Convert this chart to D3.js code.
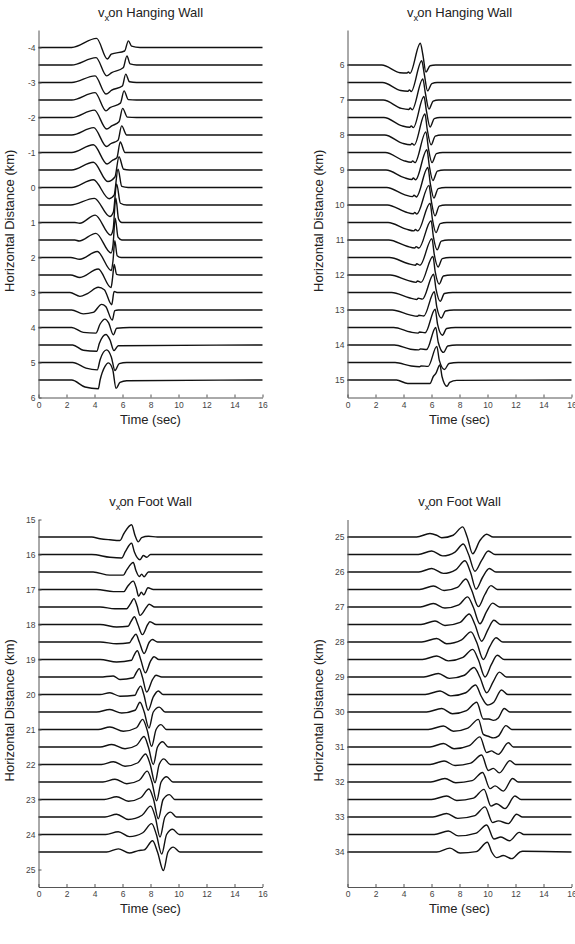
<!DOCTYPE html>
<html>
<head>
<meta charset="utf-8">
<script src="https://cdn.jsdelivr.net/npm/d3@7"></script>
<style>
  body { margin: 0; background: #fff; }
  svg text { font-family: "Liberation Sans", Arial, sans-serif; }
</style>
</head>
<body>
<div id="chart"></div>
<script>
// page size
const width = 575
const height = 944

// shared axis ticks
const timeTicks = [0, 2, 4, 6, 8, 10, 12, 14, 16]

// each trace: [time (sec), deflection in km units, + = up]

// ---- v_x on hanging wall, -4 .. 5.5 km
const hwDistA = [-4, -3.5, -3, -2.5, -2, -1.5, -1, -0.5, 0, 0.5, 1, 1.5, 2, 2.5, 3, 3.5, 4, 4.5, 5, 5.5]
const hwTicksA = [-4, -3, -2, -1, 0, 1, 2, 3, 4, 5, 6]
const hwTracesA = [
  [[0,0],[2.37,0],[4.15,0.26],[4.92,-0.33],[5.2,-0.19],[6.15,-0.1],[6.42,0.19],[6.65,0.04],[7.25,0],[16,0]],
  [[0,0],[2.37,0],[4.11,0.21],[4.87,-0.31],[5.23,-0.22],[6.05,-0.08],[6.32,0.26],[6.54,0.03],[7.0,0],[16,0]],
  [[0,0],[2.37,0],[4.04,0.19],[4.82,-0.33],[5.23,-0.22],[5.99,-0.1],[6.23,0.24],[6.5,0.02],[7.0,0],[16,0]],
  [[0,0],[2.37,0],[4.04,0.21],[4.82,-0.31],[5.11,-0.22],[5.85,-0.09],[6.11,0.26],[6.42,0.01],[7.0,0],[16,0]],
  [[0,0],[2.37,0],[3.99,0.21],[4.87,-0.33],[5.23,-0.24],[5.75,-0.12],[6.01,0.26],[6.35,0.01],[7.0,0],[16,0]],
  [[0,0],[2.37,0],[3.94,0.21],[4.87,-0.33],[5.15,-0.25],[5.68,-0.15],[5.94,0.26],[6.3,0],[16,0]],
  [[0,0],[2.37,0],[3.92,0.22],[4.9,-0.33],[5.3,-0.22],[5.6,-0.15],[5.84,0.3],[6.18,0],[16,0]],
  [[0,0],[2.37,0],[3.92,0.22],[4.95,-0.33],[5.46,-0.2],[5.75,0.38],[6.08,0.02],[6.5,0],[16,0]],
  [[0,0],[2.37,0],[3.92,0.22],[5.05,-0.32],[5.4,-0.22],[5.68,0.52],[5.95,0.03],[6.4,0],[16,0]],
  [[0,0],[2.3,0],[3.99,0.19],[5.1,-0.33],[5.35,-0.2],[5.58,0.6],[5.85,0.05],[6.3,0],[16,0]],
  [[0,0],[2.6,0],[2.95,-0.02],[4.05,0.21],[5.15,-0.36],[5.33,-0.2],[5.52,0.7],[5.72,0.1],[5.95,0],[16,0]],
  [[0,0],[2.6,0],[2.9,-0.03],[4.1,0.19],[5.18,-0.37],[5.32,-0.15],[5.48,0.62],[5.68,0.08],[5.95,0],[16,0]],
  [[0,0],[2.3,0],[2.95,-0.05],[4.2,0.17],[5.2,-0.37],[5.32,-0.1],[5.45,0.48],[5.62,0.05],[5.9,0],[16,0]],
  [[0,0],[2.3,0],[2.96,-0.07],[4.27,0.17],[5.18,-0.36],[5.3,-0.05],[5.4,0.3],[5.58,0.02],[5.85,0],[16,0]],
  [[0,0],[2.25,0],[2.96,-0.11],[3.5,-0.03],[4.27,0.15],[4.7,0.08],[5.23,-0.35],[5.4,0.03],[5.6,0],[16,0]],
  [[0,0],[2.37,0],[3.2,-0.11],[3.9,-0.07],[4.51,0.16],[4.8,0.1],[5.27,-0.29],[5.45,-0.02],[5.7,0],[16,0]],
  [[0,0],[2.37,0],[3.2,-0.14],[4.1,-0.16],[4.4,0.1],[4.75,0.24],[5.0,0.14],[5.35,-0.21],[5.58,-0.02],[6.5,0],[16,0]],
  [[0,0],[2.44,0],[3.2,-0.15],[4.16,-0.18],[4.35,0.05],[4.82,0.3],[5.1,0.15],[5.39,-0.16],[5.7,-0.02],[16,0]],
  [[0,0],[2.44,0],[3.39,-0.16],[4.2,-0.21],[4.4,0.08],[4.87,0.36],[5.2,0.16],[5.46,-0.23],[5.77,-0.03],[6.3,0],[16,0]],
  [[0,0],[2.37,0],[3.32,-0.2],[4.27,-0.25],[4.4,0.0],[4.75,0.39],[4.99,0.49],[5.3,0.3],[5.54,-0.24],[5.82,-0.07],[6.3,-0.02],[16,0]]
]

// ---- v_x on hanging wall, 6 .. 15 km
const hwDistB = [6, 6.5, 7, 7.5, 8, 8.5, 9, 9.5, 10, 10.5, 11, 11.5, 12, 12.5, 13, 13.5, 14, 14.5, 15]
const hwTicksB = [6, 7, 8, 9, 10, 11, 12, 13, 14, 15]
const hwTracesB = [
  [[0,0],[2.45,0],[3.75,-0.22],[4.25,-0.23],[4.35,-0.2],[4.46,-0.24],[5.2,0.62],[5.38,0.3],[5.6,-0.2],[5.9,-0.02],[6.3,0],[16,0]],
  [[0,0],[2.5,0],[3.8,-0.23],[4.32,-0.25],[4.42,-0.21],[4.55,-0.26],[5.3,0.62],[5.48,0.25],[5.72,-0.24],[6.02,-0.03],[6.4,0],[16,0]],
  [[0,0],[2.55,0],[3.85,-0.24],[4.38,-0.27],[4.48,-0.23],[4.62,-0.28],[5.38,0.6],[5.56,0.2],[5.82,-0.26],[6.12,-0.03],[6.5,0],[16,0]],
  [[0,0],[2.6,0],[3.9,-0.24],[4.45,-0.28],[4.55,-0.24],[4.7,-0.29],[5.46,0.6],[5.64,0.18],[5.9,-0.27],[6.2,-0.03],[6.6,0],[16,0]],
  [[0,0],[2.65,0],[3.95,-0.24],[4.5,-0.28],[4.6,-0.24],[4.76,-0.29],[5.53,0.6],[5.7,0.15],[5.97,-0.28],[6.27,-0.03],[6.7,0],[16,0]],
  [[0,0],[2.7,0],[4.0,-0.23],[4.55,-0.28],[4.65,-0.24],[4.82,-0.29],[5.6,0.59],[5.78,0.12],[6.04,-0.29],[6.35,-0.03],[6.8,0],[16,0]],
  [[0,0],[2.75,0],[4.05,-0.22],[4.6,-0.27],[4.7,-0.23],[4.87,-0.28],[5.67,0.58],[5.85,0.1],[6.1,-0.3],[6.42,-0.03],[6.9,0],[16,0]],
  [[0,0],[2.8,0],[4.1,-0.21],[4.65,-0.26],[4.75,-0.22],[4.92,-0.27],[5.74,0.57],[5.92,0.1],[6.17,-0.3],[6.48,-0.03],[7.0,0],[16,0]],
  [[0,0],[2.85,0],[4.15,-0.2],[4.7,-0.25],[4.8,-0.21],[4.95,-0.26],[5.82,0.56],[6.0,0.08],[6.25,-0.31],[6.55,-0.03],[7.0,0],[16,0]],
  [[0,0],[2.9,0],[4.2,-0.19],[4.75,-0.24],[4.85,-0.2],[5.02,-0.24],[5.9,0.55],[6.07,0.08],[6.32,-0.29],[6.62,-0.03],[7.1,0],[16,0]],
  [[0,0],[2.95,0],[4.25,-0.18],[4.8,-0.23],[4.9,-0.19],[5.1,-0.23],[5.97,0.55],[6.14,0.08],[6.4,-0.28],[6.7,-0.03],[7.2,0],[16,0]],
  [[0,0],[3.0,0],[4.3,-0.17],[4.85,-0.22],[4.95,-0.18],[5.18,-0.22],[6.03,0.54],[6.2,0.08],[6.47,-0.27],[6.77,-0.03],[7.3,0],[16,0]],
  [[0,0],[3.05,0],[4.35,-0.16],[4.9,-0.21],[5.0,-0.17],[5.25,-0.21],[6.1,0.53],[6.27,0.08],[6.55,-0.26],[6.85,-0.03],[7.4,0],[16,0]],
  [[0,0],[3.15,0],[4.4,-0.15],[4.95,-0.2],[5.05,-0.16],[5.35,-0.19],[6.15,0.52],[6.33,0.08],[6.62,-0.25],[6.92,-0.03],[7.5,0],[16,0]],
  [[0,0],[3.2,0],[4.45,-0.14],[5.0,-0.18],[5.1,-0.15],[5.45,-0.17],[6.2,0.52],[6.38,0.08],[6.7,-0.23],[7.0,-0.03],[7.6,0],[16,0]],
  [[0,0],[3.3,0],[4.5,-0.13],[5.05,-0.16],[5.15,-0.13],[5.55,-0.15],[6.26,0.52],[6.44,0.08],[6.78,-0.22],[7.08,-0.03],[7.7,0],[16,0]],
  [[0,0],[3.35,0],[4.5,-0.12],[5.1,-0.14],[5.2,-0.11],[5.65,-0.13],[6.3,0.5],[6.48,0.08],[6.86,-0.21],[7.16,-0.03],[7.8,0],[16,0]],
  [[0,0],[3.4,0],[4.55,-0.1],[5.15,-0.12],[5.25,-0.1],[5.76,-0.11],[6.38,0.46],[6.56,0.06],[6.93,-0.2],[7.25,-0.03],[7.9,0],[16,0]],
  [[0,0],[3.5,0],[4.3,-0.1],[4.85,-0.1],[5.89,-0.1],[6.13,0.1],[6.3,0.18],[6.6,0.43],[6.75,0.1],[7.1,-0.18],[7.3,-0.07],[7.8,-0.01],[16,0]]
]

// ---- v_x on foot wall, 15.5 .. 24.5 km
const fwDistA = [15.5, 16, 16.5, 17, 17.5, 18, 18.5, 19, 19.5, 20, 20.5, 21, 21.5, 22, 22.5, 23, 23.5, 24, 24.5]
const fwTicksA = [15, 16, 17, 18, 19, 20, 21, 22, 23, 24, 25]
const fwTracesA = [
  [[0,0],[3.8,0],[4.4,-0.05],[5.1,-0.08],[5.82,-0.1],[6.1,0.1],[6.65,0.35],[6.89,0.05],[7.13,-0.14],[7.37,-0.02],[7.85,0.02],[8.5,0],[16,0]],
  [[0,0],[3.8,0],[5.1,-0.08],[5.94,-0.1],[6.2,0.08],[6.65,0.32],[6.85,0.07],[7.25,-0.15],[7.49,-0.03],[7.73,-0.08],[8.0,0],[16,0]],
  [[0,0],[3.9,0],[5.1,-0.09],[6.06,-0.09],[6.3,0.06],[6.77,0.27],[6.96,0.04],[7.2,-0.13],[7.37,-0.06],[7.54,-0.14],[7.85,0],[16,0]],
  [[0,0],[4.15,0],[5.35,-0.06],[6.1,-0.06],[6.35,0.08],[6.77,0.24],[6.98,0.05],[7.15,-0.19],[7.35,-0.08],[7.52,-0.15],[7.82,0.05],[8.2,0],[16,0]],
  [[0,0],[4.4,0],[5.45,-0.05],[6.3,-0.05],[6.55,0.08],[6.82,0.24],[7.05,0.02],[7.25,-0.24],[7.72,0],[7.9,0.08],[8.3,0],[16,0]],
  [[0,0],[4.4,0],[5.58,-0.07],[6.4,-0.05],[6.6,0.08],[6.85,0.22],[7.1,0.0],[7.42,-0.29],[7.8,0],[7.96,0.08],[8.4,0],[16,0]],
  [[0,0],[4.4,0],[5.58,-0.05],[6.5,-0.02],[6.7,0.1],[6.96,0.22],[7.2,0.0],[7.54,-0.33],[7.92,0],[8.13,0.07],[8.5,0],[16,0]],
  [[0,0],[4.4,0],[5.58,-0.07],[6.65,-0.02],[6.8,0.1],[7.06,0.25],[7.3,0.0],[7.63,-0.38],[8.01,-0.04],[8.25,0.08],[8.6,0],[16,0]],
  [[0,0],[4.4,0],[5.34,0.03],[5.82,-0.07],[6.77,-0.02],[6.95,0.1],[7.2,0.24],[7.42,0.0],[7.73,-0.43],[8.15,-0.07],[8.39,0.05],[8.8,0],[16,0]],
  [[0,0],[4.4,0],[5.1,0.05],[5.82,-0.05],[6.9,-0.02],[7.05,0.1],[7.3,0.24],[7.52,0.0],[7.83,-0.45],[8.2,-0.07],[8.56,0.1],[8.9,0],[16,0]],
  [[0,0],[4.15,0],[5.1,0.07],[5.94,-0.03],[6.9,0.05],[7.25,0.28],[7.55,0.0],[7.89,-0.46],[8.2,0.0],[8.63,0.14],[9.04,0],[16,0]],
  [[0,0],[4.27,0],[5.1,0.07],[6.06,-0.05],[7.0,0.05],[7.44,0.29],[7.75,0.0],[8.08,-0.48],[8.4,0.0],[8.75,0.14],[9.15,0],[16,0]],
  [[0,0],[4.4,0],[5.23,0.07],[6.18,-0.05],[7.01,0.05],[7.54,0.3],[7.85,0.0],[8.2,-0.5],[8.5,0.0],[8.87,0.15],[9.27,0],[16,0]],
  [[0,0],[4.5,0],[5.35,0.08],[6.18,-0.05],[7.1,0.05],[7.65,0.3],[7.98,0.0],[8.32,-0.52],[8.62,0.0],[8.96,0.16],[9.4,0],[16,0]],
  [[0,0],[4.6,0],[5.46,0.08],[6.3,-0.05],[7.2,0.05],[7.77,0.31],[8.1,0.0],[8.44,-0.54],[8.76,0.0],[9.15,0.15],[9.6,0],[16,0]],
  [[0,0],[4.7,0],[5.58,0.08],[6.42,-0.05],[7.3,0.05],[7.89,0.3],[8.22,0.0],[8.56,-0.55],[8.9,0.0],[9.35,0.14],[9.75,0],[16,0]],
  [[0,0],[4.75,0],[5.58,0.08],[6.42,-0.07],[7.4,0.05],[8.01,0.31],[8.34,0.0],[8.68,-0.57],[9.03,0.0],[9.44,0.14],[9.85,0],[16,0]],
  [[0,0],[4.8,0],[5.7,0.08],[6.49,-0.06],[7.45,0.05],[8.08,0.31],[8.42,0.0],[8.8,-0.56],[9.15,0.0],[9.58,0.15],[10.05,0],[16,0]],
  [[0,0],[4.87,0],[5.7,0.09],[6.49,-0.03],[7.13,0.04],[7.55,0.06],[8.15,0.32],[8.5,0.0],[8.92,-0.53],[9.25,0.0],[9.63,0.14],[10.1,0],[16,0]]
]

// ---- v_x on foot wall, 25 .. 34 km
const fwDistB = [25, 25.5, 26, 26.5, 27, 27.5, 28, 28.5, 29, 29.5, 30, 30.5, 31, 31.5, 32, 32.5, 33, 33.5, 34]
const fwTicksB = [25, 26, 27, 28, 29, 30, 31, 32, 33, 34]
const fwTracesB = [
  [[0,0],[4.94,0],[5.89,0.1],[6.37,0.05],[6.73,-0.02],[7.55,0.05],[8.23,0.29],[8.55,0.0],[8.94,-0.48],[9.46,-0.1],[9.94,0.08],[10.4,0],[16,0]],
  [[0,0],[5.06,0],[6.01,0.1],[6.8,-0.04],[7.68,0.07],[8.27,0.3],[8.65,0.0],[9.1,-0.48],[9.58,-0.17],[10.06,0.1],[10.54,0],[16,0]],
  [[0,0],[5.1,0],[6.01,0.1],[6.85,-0.04],[7.75,0.07],[8.39,0.32],[8.78,0.0],[9.18,-0.49],[9.65,-0.15],[10.13,0.1],[10.6,0],[16,0]],
  [[0,0],[5.15,0],[6.13,0.1],[6.9,-0.03],[7.85,0.06],[8.46,0.3],[8.85,0.0],[9.35,-0.49],[9.8,-0.15],[10.25,0.11],[10.7,0],[16,0]],
  [[0,0],[5.2,0],[6.13,0.1],[6.96,-0.03],[7.95,0.06],[8.58,0.29],[8.98,0.0],[9.46,-0.48],[9.92,-0.14],[10.37,0.11],[10.85,0],[16,0]],
  [[0,0],[5.25,0],[6.25,0.1],[6.96,-0.03],[8.05,0.06],[8.7,0.3],[9.1,0.0],[9.58,-0.48],[10.05,-0.13],[10.46,0.12],[10.95,0],[16,0]],
  [[0,0],[5.3,0],[6.37,0.1],[7.08,-0.05],[8.15,0.06],[8.82,0.29],[9.22,0.0],[9.7,-0.5],[10.15,-0.14],[10.61,0.12],[11.1,0],[16,0]],
  [[0,0],[5.35,0],[6.37,0.1],[7.2,-0.04],[8.25,0.06],[8.94,0.29],[9.34,0.0],[9.82,-0.5],[10.28,-0.14],[10.7,0.12],[11.2,0],[16,0]],
  [[0,0],[5.45,0],[6.49,0.1],[7.27,-0.04],[8.35,0.05],[9.04,0.27],[9.45,0.0],[9.94,-0.45],[10.4,-0.14],[10.85,0.14],[11.35,0],[16,0]],
  [[0,0],[5.55,0],[6.61,0.1],[7.37,-0.04],[8.45,0.05],[9.15,0.27],[9.55,-0.05],[10.0,-0.3],[10.2,-0.28],[10.45,-0.22],[11.0,0.13],[11.45,0],[16,0]],
  [[0,0],[5.65,0],[6.73,0.1],[7.49,-0.05],[8.5,0.04],[9.23,0.28],[9.7,-0.2],[10.1,-0.2],[10.42,-0.24],[10.77,-0.17],[11.2,0.1],[11.6,0],[16,0]],
  [[0,0],[5.77,0],[6.85,0.1],[7.56,-0.05],[8.6,0.04],[9.35,0.29],[9.7,-0.14],[10.1,-0.2],[10.42,-0.24],[10.77,-0.19],[11.32,0.11],[11.73,0],[16,0]],
  [[0,0],[5.89,0],[6.85,0.1],[7.61,-0.05],[8.7,0.04],[9.46,0.29],[9.94,-0.16],[10.3,-0.11],[10.4,-0.13],[10.77,-0.21],[11.49,0.12],[11.85,0],[16,0]],
  [[0,0],[5.9,0],[6.9,0.1],[7.68,-0.03],[8.8,0.04],[9.58,0.27],[10.06,-0.17],[10.42,-0.11],[10.85,-0.24],[11.6,0.11],[12.0,0],[16,0]],
  [[0,0],[5.95,0],[6.96,0.1],[7.73,-0.02],[8.9,0.04],[9.65,0.27],[10.18,-0.19],[10.54,-0.11],[11.13,-0.26],[11.8,0.1],[12.2,0],[16,0]],
  [[0,0],[6.0,0],[7.08,0.1],[7.8,-0.03],[9.0,0.04],[9.75,0.29],[10.25,-0.19],[10.65,-0.12],[11.25,-0.26],[11.96,0.1],[12.4,0],[16,0]],
  [[0,0],[6.1,0],[7.08,0.1],[7.87,-0.04],[9.1,0.04],[9.82,0.29],[10.37,-0.16],[10.77,-0.11],[11.49,-0.19],[12.08,0.08],[12.5,0],[16,0]],
  [[0,0],[6.2,0],[7.2,0.1],[7.92,-0.04],[9.2,0.04],[9.94,0.27],[10.46,-0.13],[10.96,-0.07],[11.56,-0.18],[12.27,0.06],[12.6,0],[16,0]],
  [[0,0],[6.37,0],[7.32,0.11],[8.04,-0.03],[9.2,0.01],[9.99,0.28],[10.3,0.0],[10.65,-0.16],[11.13,-0.1],[11.73,-0.19],[12.32,0.0],[12.5,0.02],[16,0]]
]

// append the svg object
const svg = d3.select("#chart")
  .append("svg")
  .attr("width", width)
  .attr("height", height)

// panel layout
const plotW = 224
const plotH = 367.5

const panels = [
  { dist: hwDistA, traces: hwTracesA, yDomain: [-4.5, 6], yTicks: hwTicksA, title: "on Hanging Wall", left: 38.5, top: 30 },
  { dist: hwDistB, traces: hwTracesB, yDomain: [5, 15.5], yTicks: hwTicksB, title: "on Hanging Wall", left: 347.5, top: 30 },
  { dist: fwDistA, traces: fwTracesA, yDomain: [15, 25.5], yTicks: fwTicksA, title: "on Foot Wall", left: 38.5, top: 519.5 },
  { dist: fwDistB, traces: fwTracesB, yDomain: [24.5, 35], yTicks: fwTicksB, title: "on Foot Wall", left: 347.5, top: 519.5 }
]

function drawPanel(p) {
  const x = d3.scaleLinear().domain([0, 16]).range([p.left, p.left + plotW])
  const y = d3.scaleLinear().domain(p.yDomain).range([p.top, p.top + plotH])

  const g = svg.append("g")

  // seismogram traces, each hung on its own distance
  p.traces.forEach((tr, i) => {
    const d0 = p.dist[i]
    const line = d3.line()
      .x(d => x(d[0]))
      .y(d => y(d0 - d[1]))
      .curve(d3.curveMonotoneX)
    g.append("path")
      .attr("d", line(tr))
      .attr("fill", "none")
      .attr("stroke", "#111")
      .attr("stroke-width", 1.4)
      .attr("stroke-linejoin", "round")
  })

  // x axis, ticks pointing in
  const xa = g.append("g")
    .attr("transform", `translate(0,${p.top + plotH})`)
    .call(d3.axisBottom(x).tickValues(timeTicks).tickSizeInner(-3).tickSizeOuter(0).tickPadding(4))
  // y axis, plain hyphen for negatives
  const ya = g.append("g")
    .attr("transform", `translate(${p.left},0)`)
    .call(d3.axisLeft(y).tickValues(p.yTicks).tickFormat(d => String(d))
      .tickSizeInner(-3).tickSizeOuter(0).tickPadding(3))

  ;[xa, ya].forEach(a => {
    a.attr("font-family", null).attr("font-size", null)
    a.select(".domain").attr("stroke", "#555").attr("stroke-width", 1)
    a.selectAll(".tick line").attr("stroke", "#555")
    a.selectAll(".tick text").attr("fill", "#444").style("font-size", "8.5px")
  })

  const cx = p.left + plotW / 2

  // title  v_x on ...
  const t = g.append("text")
    .attr("x", cx)
    .attr("y", p.top - 13.5)
    .attr("text-anchor", "middle")
    .attr("fill", "#222")
    .style("font-size", "13px")
  t.append("tspan").text("v")
  t.append("tspan").attr("dy", 4).style("font-size", "9.5px").text("x")
  t.append("tspan").attr("dy", -4).attr("dx", -1).text(p.title)

  // x label
  g.append("text")
    .attr("x", cx)
    .attr("y", p.top + plotH + 26)
    .attr("text-anchor", "middle")
    .attr("fill", "#222")
    .style("font-size", "13px")
    .text("Time (sec)")

  // y label
  g.append("text")
    .attr("transform", `translate(${p.left - 24.5},${p.top + plotH / 2 + 7}) rotate(-90)`)
    .attr("text-anchor", "middle")
    .attr("fill", "#222")
    .style("font-size", "13px")
    .text("Horizontal Distance (km)")
}

panels.forEach(drawPanel)
</script>
</body>
</html>
